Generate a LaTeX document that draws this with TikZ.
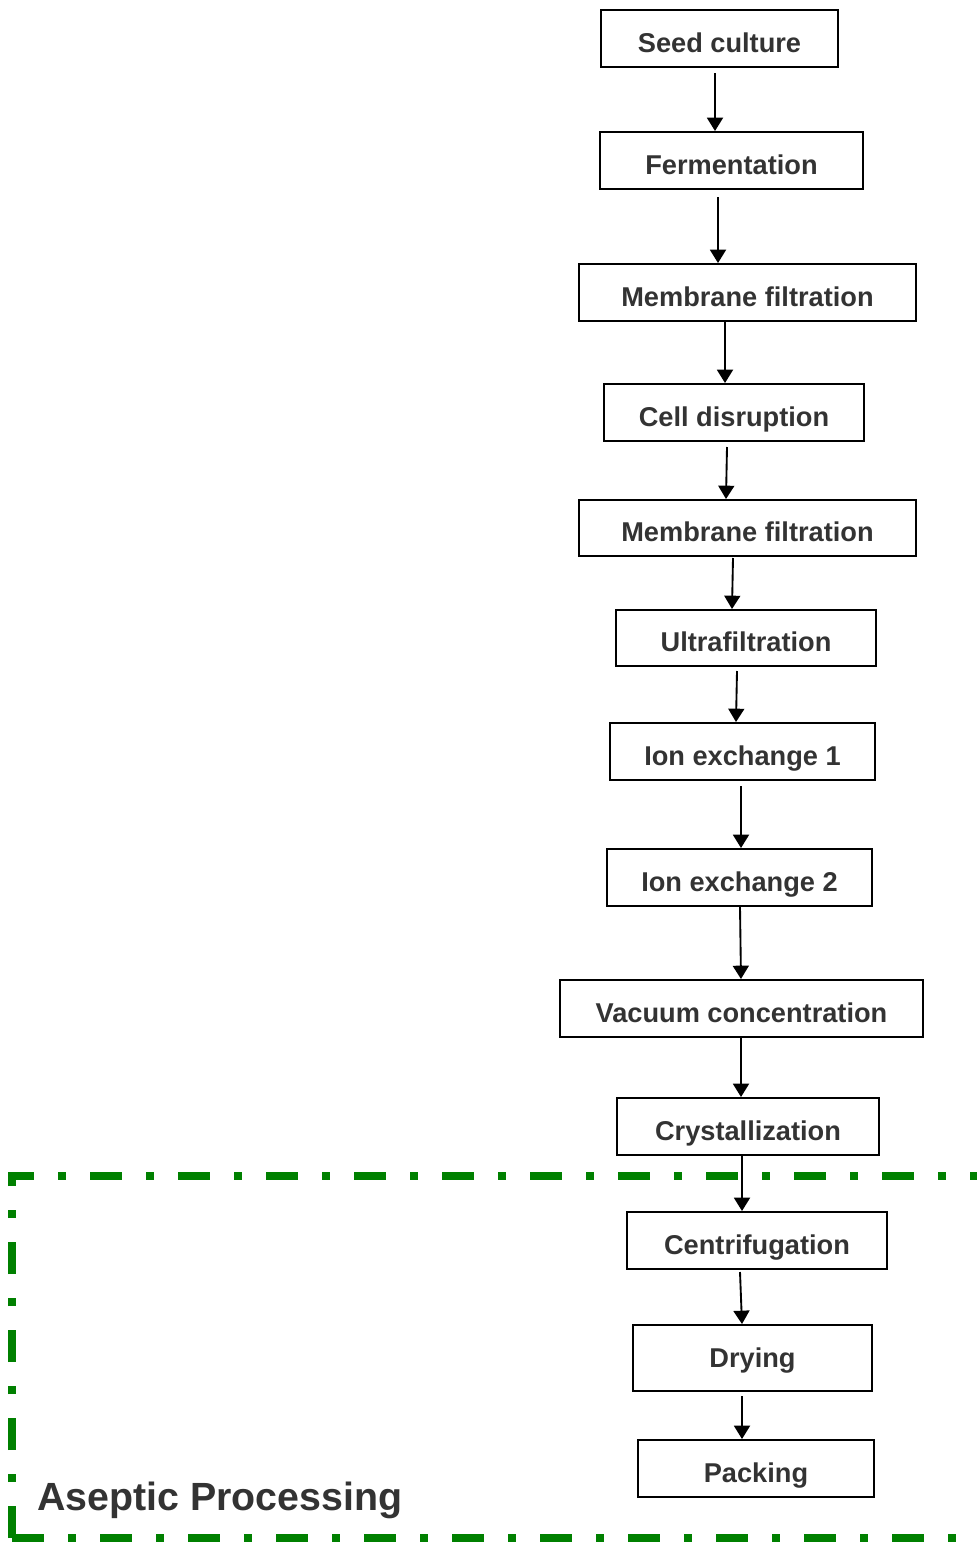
\documentclass[tikz,border=0pt]{standalone}
\usepackage{fontspec}
\setmainfont{Liberation Sans}
\usetikzlibrary{arrows.meta}
\definecolor{stepgrey}{HTML}{333333}
\definecolor{aseptgreen}{HTML}{008000}
\tikzset{
  stepbox/.style={draw, line width=1.5pt, inner sep=0pt, minimum height=42.75pt,
    text=stepgrey, font=\fontsize{20.4}{24}\selectfont\bfseries,
    text height=20.6pt, text depth=0pt},
  flow/.style={line width=1.4pt, -{Triangle[length=10pt,width=12pt]}},
  aseptic/.style={aseptgreen, line width=6pt,
    dash pattern=on 24pt off 18pt on 6pt off 18pt}
}
\begin{document}
\begin{tikzpicture}[x=0.75pt,y=-0.75pt]
  \useasboundingbox (0,0) rectangle (976,1542);
  % aseptic area
  \coordinate (asbl) at (12,1538);
  \coordinate (astl) at (12,1176);
  \coordinate (astr) at (1000,1176);
  \coordinate (asbr) at (1000,1538);
  \draw[aseptic] (asbl) -- (astl) -- (astr);
  \draw[aseptic] (asbl) -- (asbr);
  \node[anchor=base west, text=stepgrey, font=\fontsize{29.5}{34}\selectfont\bfseries, inner sep=0pt] (asept) at (37,1510) {Aseptic Processing};

  \node[stepbox, minimum width=177.75pt] (seed) at (719.5,38.5) {Seed culture};
  \node[stepbox, minimum width=197.25pt] (ferm) at (731.5,160.5) {Fermentation};
  \node[stepbox, minimum width=252.75pt] (memf1) at (747.5,292.5) {Membrane filtration};
  \node[stepbox, minimum width=195pt] (disr) at (734,412.5) {Cell disruption};
  \node[stepbox, minimum width=252.75pt, minimum height=42pt] (memf2) at (747.5,528) {Membrane filtration};
  \node[stepbox, minimum width=195pt, minimum height=42pt] (ultra) at (746,638) {Ultrafiltration};
  \node[stepbox, minimum width=198.75pt] (ionex1) at (742.5,751.5) {Ion exchange 1};
  \node[stepbox, minimum width=198.75pt] (ionex2) at (739.5,877.5) {Ion exchange 2};
  \node[stepbox, minimum width=272.25pt] (vacc) at (741.5,1008.5) {Vacuum concentration};
  \node[stepbox, minimum width=196.5pt] (cryst) at (748,1126.5) {Crystallization};
  \node[stepbox, minimum width=195pt] (centr) at (757,1240.5) {Centrifugation};
  \node[stepbox, minimum width=179.25pt, minimum height=49.5pt, text height=14.6pt] (dry) at (752.5,1358) {Drying};
  \node[stepbox, minimum width=177pt] (pack) at (756,1468.5) {Packing};

  \draw[flow] ([shift={(-4.5,5)}]seed.south) -- ([shift={(-16.5,0)}]ferm.north);
  \draw[flow] ([shift={(-13.5,7)}]ferm.south) -- ([shift={(-29.5,0)}]memf1.north);
  \draw[flow] ([shift={(-22.5,0)}]memf1.south) -- ([shift={(-9,0)}]disr.north);
  \draw[flow] ([shift={(-7,5)}]disr.south) -- ([shift={(-21.5,0)}]memf2.north);
  \draw[flow] ([shift={(-14.5,1)}]memf2.south) -- ([shift={(-14,0)}]ultra.north);
  \draw[flow] ([shift={(-9,4)}]ultra.south) -- ([shift={(-6.5,0)}]ionex1.north);
  \draw[flow] ([shift={(-1.5,5)}]ionex1.south) -- ([shift={(1.5,0)}]ionex2.north);
  \draw[flow] ([shift={(0.5,0)}]ionex2.south) -- ([shift={(-0.5,0)}]vacc.north);
  \draw[flow] ([shift={(-0.5,0)}]vacc.south) -- ([shift={(-7,0)}]cryst.north);
  \draw[flow] ([shift={(-6,0)}]cryst.south) -- ([shift={(-15,0)}]centr.north);
  \draw[flow] ([shift={(-17,2)}]centr.south) -- ([shift={(-10.5,0)}]dry.north);
  \draw[flow] ([shift={(-10.5,4)}]dry.south) -- ([shift={(-14,0)}]pack.north);
\end{tikzpicture}
\end{document}
